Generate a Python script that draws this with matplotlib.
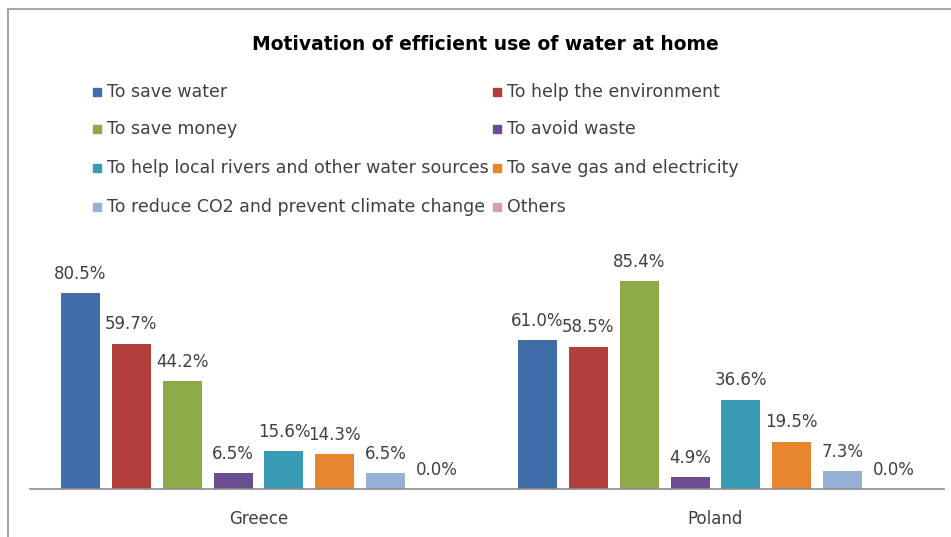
import matplotlib.pyplot as plt
from matplotlib.patches import Rectangle
import numpy as np

# data
countries = ['Greece', 'Poland']
motives = ['To save water', 'To help the environment', 'To save money', 'To avoid waste',
           'To help local rivers and other water sources', 'To save gas and electricity',
           'To reduce CO2 and prevent climate change', 'Others']
greece = [80.5, 59.7, 44.2, 6.5, 15.6, 14.3, 6.5, 0.0]
poland = [61.0, 58.5, 85.4, 4.9, 36.6, 19.5, 7.3, 0.0]
colors = ['#3F6DA8', '#B23F3C', '#8DAA48', '#6A4E8E', '#3A9BB5', '#E8862F', '#96B0D8', '#D9A0A0']

W, H = 951, 537
fig = plt.figure(figsize=(W / 100, H / 100), dpi=100)

# chart frame from the screenshot
fig.add_artist(plt.Line2D([8 / W, 1], [1 - 9 / H, 1 - 9 / H], color='#a6a6a6', lw=1.5))
fig.add_artist(plt.Line2D([8 / W, 8 / W], [0, 1 - 9 / H], color='#a6a6a6', lw=1.5))

ax = fig.add_axes([30 / W, 48 / H, 914 / W, 243.5 / H])
x = np.arange(len(countries))
step = 0.1113
width = 0.0853
for i, (m, c) in enumerate(zip(motives, colors)):
    vals = [greece[i], poland[i]]
    pos = x + (i - 3.5) * step
    bars = ax.bar(pos, vals, width, color=c, label=m)
    for b, v in zip(bars, vals):
        ax.annotate(f'{v:.1f}%', (b.get_x() + b.get_width() / 2, v), xytext=(0, 14),
                    textcoords='offset points', ha='center', va='center',
                    fontsize=12, color='#404040')

ax.set_xlim(-0.5, 1.5)
ax.set_ylim(0, 100)
ax.set_xticks(x)
ax.set_xticklabels(countries, fontsize=12, color='#404040')
ax.tick_params(axis='x', length=0, pad=15)
ax.set_yticks([])
for s in ['top', 'right', 'left']:
    ax.spines[s].set_visible(False)
ax.spines['bottom'].set_color('#8c8c8c')
ax.spines['bottom'].set_linewidth(1.2)
ax.patch.set_visible(False)

fig.text(485 / W, 1 - 44 / H, 'Motivation of efficient use of water at home',
         ha='center', va='center', fontsize=13.5, fontweight='bold', color='black')

# legend in two columns, row by row
rows_y = [92, 129, 168, 207]
cols_x = [97, 497]
for i, (m, c) in enumerate(zip(motives, colors)):
    cx = cols_x[i % 2]
    cy = rows_y[i // 2]
    fig.add_artist(Rectangle(((cx - 4) / W, 1 - (cy + 4) / H), 8 / W, 8 / H,
                             color=c, transform=fig.transFigure))
    fig.text((cx + 10) / W, 1 - cy / H, m, ha='left', va='center', fontsize=12.5,
             color='#404040')

fig.savefig('out.png', dpi=100)
